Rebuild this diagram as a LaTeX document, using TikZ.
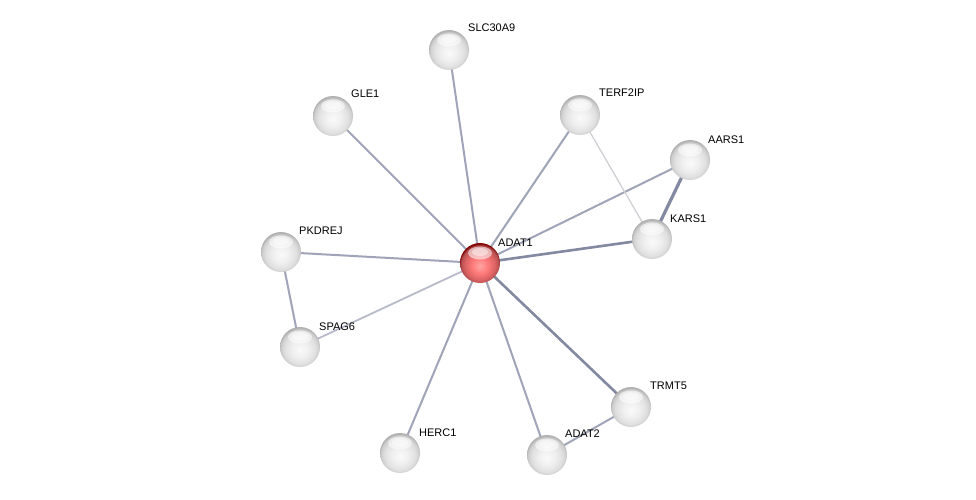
\documentclass[tikz,border=0pt]{standalone}
\usepackage{fontspec}
\setmainfont{Liberation Sans}
\definecolor{edgecol}{RGB}{160,164,184}
\definecolor{edgedark}{RGB}{130,137,160}
\definecolor{edgelite}{RGB}{184,186,202}
\definecolor{edgefnt}{RGB}{205,205,210}
\pgfdeclareradialshading{protball}{\pgfpoint{0bp}{-4bp}}{color(0bp)=(gray!4); color(10bp)=(gray!12); color(19bp)=(gray!24); color(24bp)=(gray!40); color(26bp)=(gray!62); color(50bp)=(gray!62)}
\pgfdeclareradialshading{queryball}{\pgfpoint{0bp}{-4bp}}{color(0bp)=(red!35!white); color(10bp)=(red!52!white); color(19bp)=(red!55!white!85!black); color(24bp)=(red!55!black!70!white); color(26bp)=(red!50!black); color(50bp)=(red!50!black)}
\begin{document}
\begin{tikzpicture}[x=1pt,y=-1pt,
  prot/.style={circle,minimum size=40pt,inner sep=0pt,shading=protball,
    path picture={\fill[white,opacity=0.55] ([yshift=10pt]path picture bounding box.center) ellipse (12 and 6.5);
                  \fill[white,opacity=0.4] ([yshift=11pt]path picture bounding box.center) ellipse (8 and 4);}},
  query/.style={prot,shading=queryball},
  lab/.style={anchor=base west,font=\fontsize{11}{13}\selectfont,inner sep=0pt},
  edge/.style={draw=edgecol,line width=2pt},
  edgethick/.style={draw=edgedark,line width=2.6pt},
  edgelight/.style={draw=edgelite,line width=1.8pt},
  edgefaint/.style={draw=edgefnt,line width=1.2pt}]
\useasboundingbox (0,0) rectangle (976,500);
\fill[white] (0,0) rectangle (976,500);
% coordinates
\coordinate (cADAT1) at (480,263);
\coordinate (cSLC) at (449,50);
\coordinate (cGLE1) at (333,116);
\coordinate (cTERF) at (580,115);
\coordinate (cAARS) at (690,160);
\coordinate (cKARS) at (652,239);
\coordinate (cPKD) at (281,252);
\coordinate (cSPAG) at (300,347);
\coordinate (cTRMT) at (631,407);
\coordinate (cHERC) at (400,453);
\coordinate (cADAT2) at (547,455);
% edges
\draw[edge] (cADAT1) -- (cSLC);
\draw[edge] (cADAT1) -- (cGLE1);
\draw[edge] (cADAT1) -- (cTERF);
\draw[edge] (cADAT1) -- (cAARS);
\draw[edgethick] (cADAT1) -- (cKARS);
\draw[edge] (cADAT1) -- (cPKD);
\draw[edgelight] (cADAT1) -- (cSPAG);
\draw[edge] (cADAT1) -- (cHERC);
\draw[edge] (cADAT1) -- (cADAT2);
\draw[edgethick] (cADAT1) -- (cTRMT);
\draw[edgefaint] (cTERF) -- (cKARS);
\draw[edgethick,line width=3.2pt] (cAARS) -- (cKARS);
\draw[edge] (cPKD) -- (cSPAG);
\draw[edge] (cADAT2) -- (cTRMT);
% nodes
\node[query] (ADAT1) at (cADAT1) {};
\node[prot] (SLC) at (cSLC) {};
\node[prot] (GLE1) at (cGLE1) {};
\node[prot] (TERF) at (cTERF) {};
\node[prot] (AARS) at (cAARS) {};
\node[prot] (KARS) at (cKARS) {};
\node[prot] (PKD) at (cPKD) {};
\node[prot] (SPAG) at (cSPAG) {};
\node[prot] (TRMT) at (cTRMT) {};
\node[prot] (HERC) at (cHERC) {};
\node[prot] (ADAT2) at (cADAT2) {};
% labels
\node[lab] (lADAT1) at ([shift={(18,-17)}]cADAT1) {ADAT1};
\node[lab] (lSLC) at ([shift={(19,-18)}]cSLC) {SLC30A9};
\node[lab] (lGLE1) at ([shift={(18,-18)}]cGLE1) {GLE1};
\node[lab] (lTERF) at ([shift={(19,-18)}]cTERF) {TERF2IP};
\node[lab] (lAARS) at ([shift={(18,-17)}]cAARS) {AARS1};
\node[lab] (lKARS) at ([shift={(18,-17)}]cKARS) {KARS1};
\node[lab] (lPKD) at ([shift={(18,-18)}]cPKD) {PKDREJ};
\node[lab] (lSPAG) at ([shift={(19,-17)}]cSPAG) {SPAG6};
\node[lab] (lTRMT) at ([shift={(19,-18)}]cTRMT) {TRMT5};
\node[lab] (lHERC) at ([shift={(19,-17)}]cHERC) {HERC1};
\node[lab] (lADAT2) at ([shift={(18,-18)}]cADAT2) {ADAT2};
\end{tikzpicture}
\end{document}
